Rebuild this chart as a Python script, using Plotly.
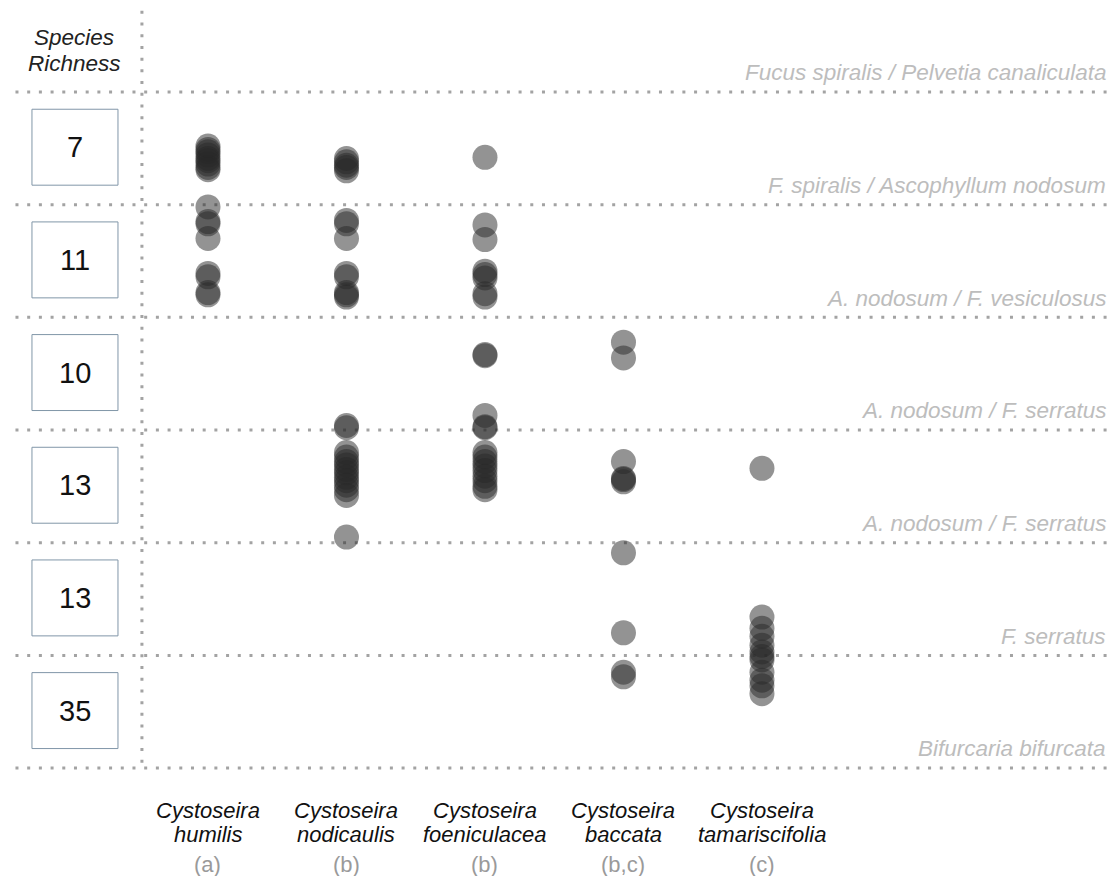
import plotly.graph_objects as go

# species (columns) and their significance groups
genus = "Cystoseira"
species = ["humilis", "nodicaulis", "foeniculacea", "baccata", "tamariscifolia"]
groups = ["(a)", "(b)", "(b)", "(b,c)", "(c)"]

# species richness per shore zone, top to bottom
richness = [7, 11, 10, 13, 13, 35]

# zone boundary labels (one per dotted line, top to bottom)
zone_labels = [
    "Fucus spiralis / Pelvetia canaliculata",
    "F. spiralis / Ascophyllum nodosum",
    "A. nodosum / F. vesiculosus",
    "A. nodosum / F. serratus",
    "A. nodosum / F. serratus",
    "F. serratus",
    "Bifurcaria bifurcata",
]

# shore position of each record, in zone units (0 = top line, 6 = bottom line)
humilis = [0.48, 0.51, 0.53, 0.56, 0.59, 0.61, 0.64, 0.67, 0.69,
           1.02, 1.15, 1.17, 1.30, 1.61, 1.64, 1.78, 1.80]
nodicaulis = [0.59, 0.62, 0.65, 0.67, 0.70,
              1.14, 1.17, 1.30, 1.61, 1.64, 1.78, 1.80, 1.82,
              2.96, 2.98, 3.20, 3.24, 3.28, 3.31, 3.35, 3.38, 3.42,
              3.45, 3.49, 3.53, 3.58, 3.95]
foeniculacea = [0.58, 1.18, 1.31, 1.59, 1.62, 1.65, 1.79, 1.82,
                2.33, 2.34, 2.87, 2.97, 2.98,
                3.20, 3.24, 3.28, 3.32, 3.36, 3.41, 3.45, 3.50, 3.53]
baccata = [2.22, 2.36, 3.28, 3.43, 3.44, 3.46, 4.09, 4.80, 5.15, 5.19]
tamariscifolia = [3.34, 4.66, 4.76, 4.83, 4.91, 4.97, 5.01, 5.04,
                  5.15, 5.22, 5.27, 5.34]

records = [humilis, nodicaulis, foeniculacea, baccata, tamariscifolia]

fig = go.Figure()

for i, ys in enumerate(records):
    fig.add_trace(go.Scatter(
        x=[i] * len(ys), y=ys, mode="markers", name=species[i],
        marker=dict(size=25, color="rgb(40,40,40)", opacity=0.5, line=dict(width=0)),
        showlegend=False, hoverinfo="y"))

dotted = dict(color="#a3a3a3", width=3, dash="3px,8.7px")
shapes = []
for k in range(len(zone_labels)):
    shapes.append(dict(type="line", xref="x", yref="y", x0=-1.39, x1=6.52, y0=k, y1=k,
                       line=dotted, layer="below"))
shapes.append(dict(type="line", xref="x", yref="y", x0=-0.477, x1=-0.477, y0=-0.72, y1=6.0,
                   line=dotted, layer="below"))

font = "Liberation Sans, Arial"
annotations = []
for k, r in enumerate(richness):
    yc = k + 0.49
    shapes.append(dict(type="rect", xref="x", yref="y", x0=-1.271, x1=-0.650,
                       y0=yc - 0.337, y1=yc + 0.337,
                       line=dict(color="#8196a8", width=1), fillcolor="white", layer="below"))
    annotations.append(dict(x=-0.96, y=yc, text=str(r), showarrow=False,
                            font=dict(size=29, color="#111111", family=font)))

for k, lab in enumerate(zone_labels):
    annotations.append(dict(x=6.5, y=k - 0.17, text="<i>%s</i>" % lab, showarrow=False,
                            xanchor="right", yanchor="middle",
                            font=dict(size=22.5, color="#bdbdbd", family=font)))

for txt, yy in [("Species", -0.488), ("Richness", -0.257)]:
    annotations.append(dict(x=-0.967, y=yy, text="<i>%s</i>" % txt, showarrow=False,
                            font=dict(size=22.5, color="#222222", family=font)))

for i, sp in enumerate(species):
    annotations.append(dict(x=i, y=6.381, text="<i>%s</i>" % genus, showarrow=False,
                            font=dict(size=22, color="#111111", family=font)))
    annotations.append(dict(x=i, y=6.586, text="<i>%s</i>" % sp, showarrow=False,
                            font=dict(size=22, color="#111111", family=font)))
    annotations.append(dict(x=i, y=6.852, text=groups[i], showarrow=False,
                            font=dict(size=22, color="#9a9a9a", family=font)))

# page body has an 8px margin, so the figure is trimmed by 8px and the ranges start 8px in
fig.update_layout(
    width=1107, height=868,
    margin=dict(l=0, r=0, t=0, b=0),
    plot_bgcolor="white", paper_bgcolor="white",
    shapes=shapes, annotations=annotations,
    xaxis=dict(range=[-1.444, 6.549], visible=False, fixedrange=True),
    yaxis=dict(range=[6.958, -0.7455], visible=False, fixedrange=True),
)

fig.write_html("out.html")
